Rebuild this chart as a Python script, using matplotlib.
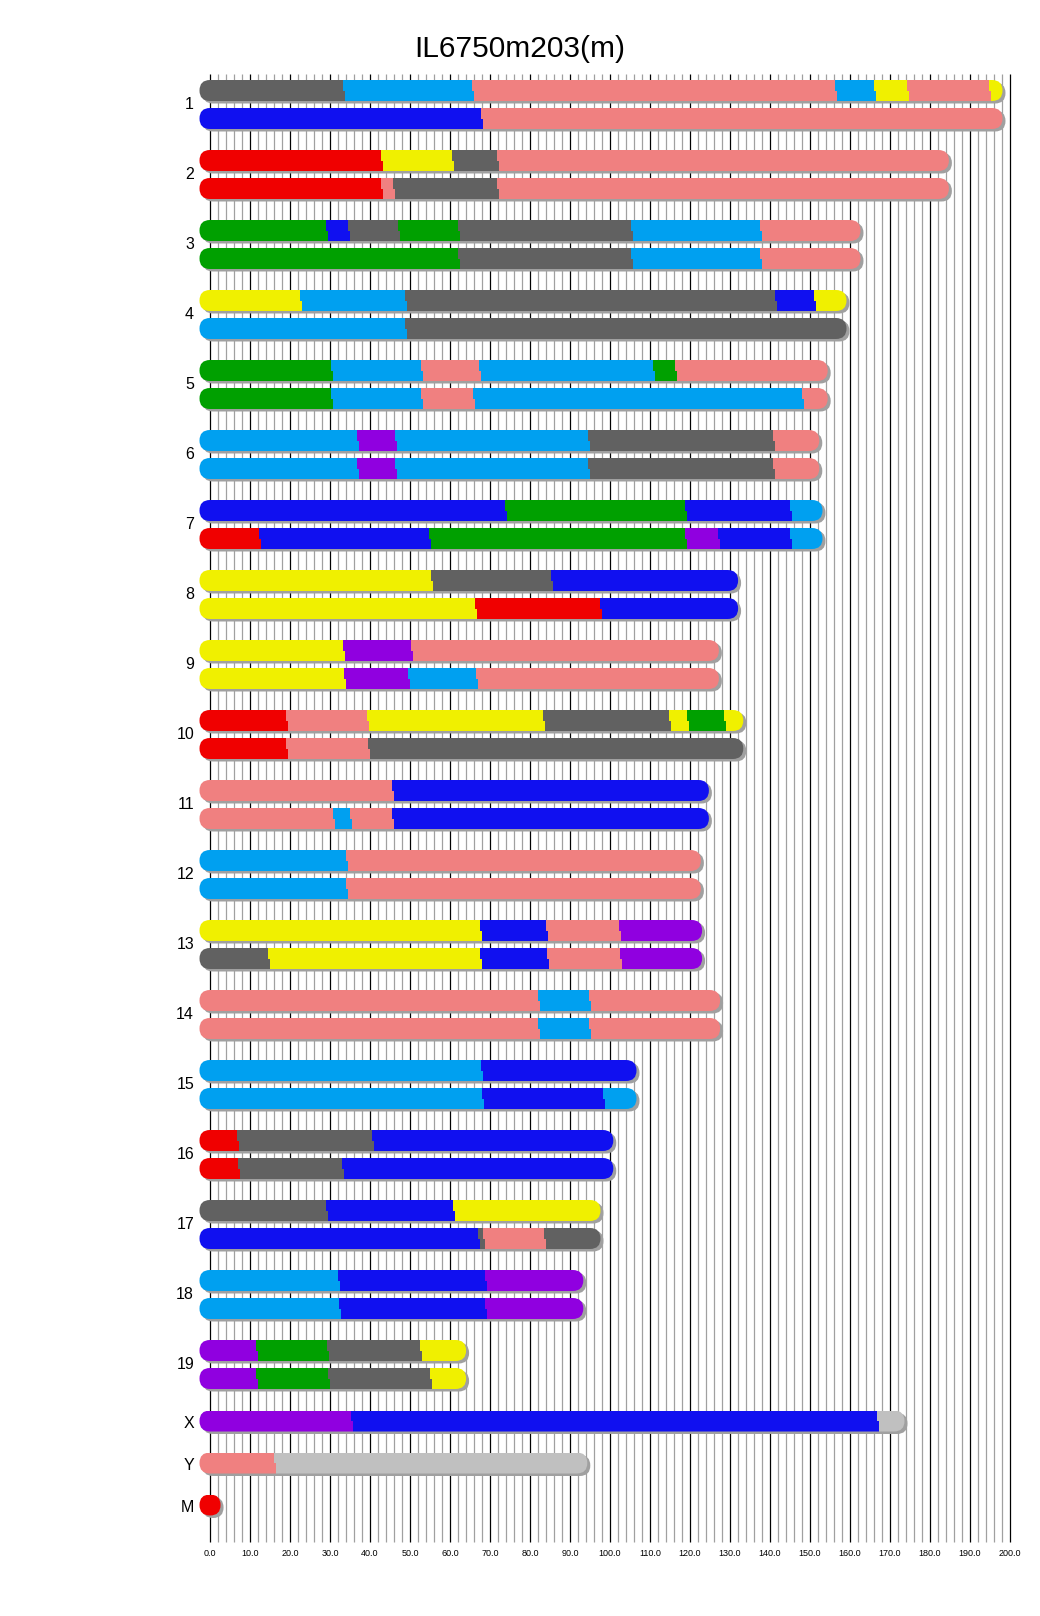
import matplotlib
matplotlib.use("Agg")
import matplotlib.pyplot as plt
from matplotlib.patches import FancyBboxPatch, Rectangle

plt.rcParams['font.family'] = ['Liberation Sans', 'DejaVu Sans']

title = "IL6750m203(m)"

chrom_names = [str(i) for i in range(1, 20)] + ['X', 'Y', 'M']
chrom_lengths = [195.5, 182.1, 160.0, 156.5, 151.8, 149.7, 150.5, 129.4, 124.6, 130.7,
                 122.1, 120.1, 120.4, 124.9, 104.0, 98.2, 95.0, 90.7, 61.4,
                 171.0, 91.7, 0.016]

# founder letter -> colour
founder_colors = {
    'A': '#f0f000',  # yellow
    'B': '#616161',  # dark gray
    'C': '#f08080',  # salmon
    'D': '#1010f0',  # blue
    'E': '#00a0f0',  # sky blue
    'F': '#00a000',  # green
    'G': '#f00000',  # red
    'H': '#9000e0',  # purple
    'N': '#c0c0c0',  # no data
}

# segments as (end position in Mb, founder); first one starts at 0
hap1 = [
    [(33.3, 'B'), (65.5, 'E'), (156.3, 'C'), (166.0, 'E'), (174.3, 'A'), (194.8, 'C'), (195.5, 'A')],
    [(42.7, 'G'), (60.5, 'A'), (71.7, 'B'), (182.1, 'C')],
    [(28.9, 'F'), (34.5, 'D'), (46.9, 'B'), (62.1, 'F'), (105.2, 'B'), (137.6, 'E'), (160.0, 'C')],
    [(22.4, 'A'), (48.7, 'E'), (141.2, 'B'), (151.0, 'D'), (156.5, 'A')],
    [(30.2, 'F'), (52.8, 'E'), (67.3, 'C'), (110.8, 'E'), (116.2, 'F'), (151.8, 'C')],
    [(36.7, 'E'), (46.3, 'H'), (94.5, 'E'), (140.8, 'B'), (149.7, 'C')],
    [(73.8, 'D'), (118.8, 'F'), (145.0, 'D'), (150.5, 'E')],
    [(55.2, 'A'), (85.3, 'B'), (129.4, 'D')],
    [(33.3, 'A'), (50.3, 'H'), (124.6, 'C')],
    [(19.0, 'G'), (39.3, 'C'), (83.2, 'A'), (114.7, 'B'), (119.3, 'A'), (128.5, 'F'), (130.7, 'A')],
    [(45.6, 'C'), (122.1, 'D')],
    [(34.0, 'E'), (120.1, 'C')],
    [(67.5, 'A'), (84.0, 'D'), (102.3, 'C'), (120.4, 'H')],
    [(82.0, 'C'), (94.8, 'E'), (124.9, 'C')],
    [(67.8, 'E'), (104.0, 'D')],
    [(6.7, 'G'), (40.5, 'B'), (98.2, 'D')],
    [(28.9, 'B'), (60.8, 'D'), (95.0, 'A')],
    [(32.0, 'E'), (68.8, 'D'), (90.7, 'H')],
    [(11.4, 'H'), (29.3, 'F'), (52.4, 'B'), (61.4, 'A')],
    [(35.3, 'H'), (166.8, 'D'), (171.0, 'N')],
    [(16.0, 'C'), (91.7, 'N')],
    [(0.016, 'G')],
]

hap2 = [
    [(67.7, 'D'), (195.5, 'C')],
    [(42.7, 'G'), (45.7, 'C'), (71.7, 'B'), (182.1, 'C')],
    [(62.1, 'F'), (105.2, 'B'), (137.6, 'E'), (160.0, 'C')],
    [(48.7, 'E'), (156.5, 'B')],
    [(30.2, 'F'), (52.8, 'E'), (65.7, 'C'), (147.9, 'E'), (151.8, 'C')],
    [(36.7, 'E'), (46.3, 'H'), (94.5, 'E'), (140.8, 'B'), (149.7, 'C')],
    [(12.2, 'G'), (54.7, 'D'), (118.8, 'F'), (126.9, 'H'), (145.0, 'D'), (150.5, 'E')],
    [(66.2, 'A'), (97.4, 'G'), (129.4, 'D')],
    [(33.4, 'A'), (49.5, 'H'), (66.4, 'E'), (124.6, 'C')],
    [(19.0, 'G'), (39.5, 'C'), (130.7, 'B')],
    [(30.7, 'C'), (35.0, 'E'), (45.6, 'C'), (122.1, 'D')],
    [(34.0, 'E'), (120.1, 'C')],
    [(14.4, 'B'), (67.5, 'A'), (84.3, 'D'), (102.6, 'C'), (120.4, 'H')],
    [(82.0, 'C'), (94.8, 'E'), (124.9, 'C')],
    [(68.0, 'E'), (98.2, 'D'), (104.0, 'E')],
    [(7.0, 'G'), (33.0, 'B'), (98.2, 'D')],
    [(67.0, 'D'), (68.3, 'B'), (83.5, 'C'), (95.0, 'B')],
    [(32.2, 'E'), (68.8, 'D'), (90.7, 'H')],
    [(11.4, 'H'), (29.4, 'F'), (55.1, 'B'), (61.4, 'A')],
]

tick_values = list(range(0, 201, 10))
grid_values = list(range(0, 201, 2))

PX = 0.25          # one pixel in data units (4 px per Mb on both axes)
BAR_H = 21 * PX
STEP = 2 * PX      # lower half of each segment is shifted right
SH_DX, SH_DY = 3 * PX, 2.5 * PX


def draw_bar(ax, yc, length, segs):
    h = BAR_H
    r = h / 2
    box = "round,pad=0,rounding_size=%f" % r
    shadow = FancyBboxPatch((-r + SH_DX, yc - h / 2 + SH_DY), length + 2 * r, h,
                            boxstyle=box, fc='#a0a0a0', ec='none', zorder=2)
    ax.add_patch(shadow)
    body = FancyBboxPatch((-r, yc - h / 2), length + 2 * r, h,
                          boxstyle=box, fc='none', ec='none', zorder=3)
    ax.add_patch(body)
    start = -r - 2
    for i, (end, f) in enumerate(segs):
        e = end if i < len(segs) - 1 else length + r + 2
        col = founder_colors[f]
        up = Rectangle((start, yc - h / 2), e - start, h / 2 + 0.05, fc=col, ec='none', zorder=3)
        lo = Rectangle((start + STEP, yc), e - start, h / 2, fc=col, ec='none', zorder=3)
        for p in (up, lo):
            ax.add_patch(p)
            p.set_clip_path(body)
        start = e


fig = plt.figure(figsize=(10.4, 16.16), dpi=100)
# axes cover the whole figure; 0 Mb sits at 210 px, 4 px per Mb
ax = fig.add_axes([0, 0, 1, 1])
ax.set_xlim(-210 * PX, 830 * PX)
ax.set_ylim(1616 * PX, 0)
ax.axis('off')

minor = [v for v in grid_values if v % 10 != 0]
ax.vlines(minor, 74 * PX, 1542 * PX, colors='#a0a0a0', lw=0.9, zorder=1)
ax.vlines(tick_values, 74 * PX, 1542 * PX, colors='black', lw=0.9, zorder=1)
for t in tick_values:
    ax.text(t, 1554 * PX, "%.1f" % t, ha='center', va='center', fontsize=6.5)

label_x = -16 * PX
for k, name in enumerate(chrom_names):
    if k < 19:
        y_top = (90.5 + 70 * k) * PX
        y_bot = (118.5 + 70 * k) * PX
        draw_bar(ax, y_top, chrom_lengths[k], hap1[k])
        draw_bar(ax, y_bot, chrom_lengths[k], hap2[k])
        y_lab = (y_top + y_bot) / 2
    else:
        y_bar = (1421 + 42 * (k - 19)) * PX
        draw_bar(ax, y_bar, chrom_lengths[k], hap1[k])
        y_lab = y_bar + 2 * PX
    ax.text(label_x, y_lab, name, ha='right', va='center', fontsize=11.5)

fig.text(0.5, 1 - 49 / 1616, title, ha='center', va='center', fontsize=21.5)

fig.savefig('out.png', dpi=100)
